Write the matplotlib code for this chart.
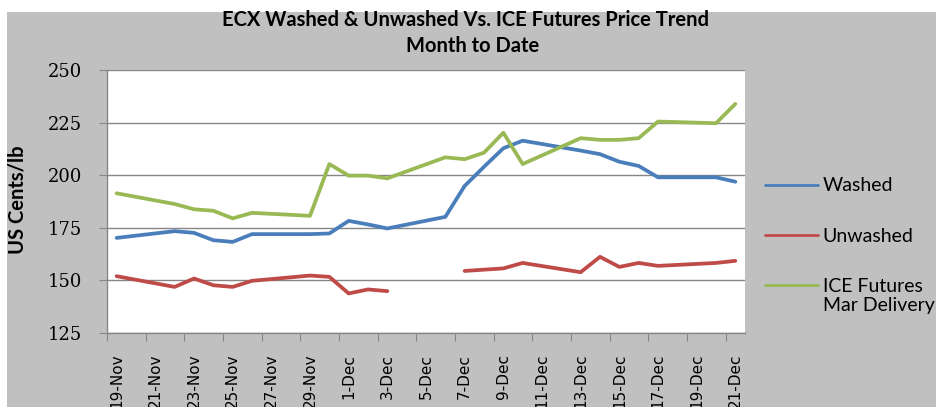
import matplotlib
matplotlib.use('Agg')
import matplotlib.pyplot as plt
import matplotlib.dates as mdates
from matplotlib.patches import Rectangle
import numpy as np
import pandas as pd

dates = ["2010-11-19", "2010-11-22", "2010-11-23", "2010-11-24", "2010-11-25", "2010-11-26",
         "2010-11-29", "2010-11-30", "2010-12-01", "2010-12-02", "2010-12-03", "2010-12-06",
         "2010-12-07", "2010-12-08", "2010-12-09", "2010-12-10", "2010-12-13", "2010-12-14",
         "2010-12-15", "2010-12-16", "2010-12-17", "2010-12-20", "2010-12-21"]
washed = [170.2, 173.4, 172.6, 169.1, 168.3, 172.0, 172.0, 172.3, 178.3, 176.6, 174.7, 180.2,
          194.9, 204.0, 212.8, 216.4, 211.7, 210.0, 206.4, 204.4, 199.0, 199.0, 196.9]
unwashed = [152.0, 146.9, 150.9, 147.7, 146.9, 149.8, 152.3, 151.7, 143.8, 145.7, 144.9, np.nan,
            154.5, 155.1, 155.7, 158.3, 153.9, 161.2, 156.4, 158.3, 156.9, 158.3, 159.3]
ice_futures = [191.4, 186.3, 183.8, 183.1, 179.5, 182.1, 180.7, 205.3, 199.8, 199.8, 198.5, 208.5,
               207.6, 210.7, 220.2, 205.3, 217.6, 216.8, 216.8, 217.6, 225.5, 224.7, 233.9]
tick_labels = ["19-Nov", "21-Nov", "23-Nov", "25-Nov", "27-Nov", "29-Nov", "1-Dec", "3-Dec",
               "5-Dec", "7-Dec", "9-Dec", "11-Dec", "13-Dec", "15-Dec", "17-Dec", "19-Dec", "21-Dec"]
series_names = ["Washed", "Unwashed", "ICE Futures"]
ice_second_line = "Mar Delivery"
colors = ["#4A7EBB", "#BE4B48", "#98B954"]
yticks = [125, 150, 175, 200, 225, 250]

W, H = 936, 407
fig = plt.figure(figsize=(W / 100, H / 100), dpi=100)
fig.patch.set_facecolor('white')
fig.patches.append(Rectangle((7 / W, 0), 1 - 7 / W, (H - 12) / H, transform=fig.transFigure,
                             facecolor='#C0C0C0', edgecolor='none', zorder=-10))

ax = fig.add_axes([107 / W, (H - 333) / H, 638 / W, 263 / H])
ax.set_facecolor('white')

x = mdates.date2num(pd.to_datetime(dates))
for vals, name, c in zip([washed, unwashed, ice_futures], series_names, colors):
    ax.plot(x, vals, color=c, lw=2.7, solid_capstyle='round', solid_joinstyle='round', label=name, zorder=3)

ax.set_xlim(x[0] - 0.5, x[-1] + 0.5)
ax.set_ylim(yticks[0], yticks[-1])
ax.set_yticks(yticks)
ax.set_xticks(np.arange(x[0] - 0.5, x[-1], 2))
ax.set_xticks(x[0] + 2 * np.arange(len(tick_labels)), minor=True)
ax.set_xticklabels(tick_labels, minor=True, rotation=90, fontsize=11, family='DejaVu Sans')
ax.tick_params(axis='x', which='major', length=6, color='#868686', labelbottom=False)
ax.tick_params(axis='x', which='minor', length=0, pad=15)
ax.tick_params(axis='y', length=6, color='#868686', pad=12, labelsize=13)
for lab in ax.get_yticklabels():
    lab.set_family('DejaVu Serif')
ax.grid(axis='y', color='#868686', lw=1)
ax.set_axisbelow(True)
for s in ['top', 'right']:
    ax.spines[s].set_visible(False)
for s in ['left', 'bottom']:
    ax.spines[s].set_color('#868686')
    ax.spines[s].set_linewidth(1)

fig.text(466 / W, 1 - 20 / H, "ECX Washed & Unwashed Vs. ICE Futures Price Trend",
         ha='center', va='center', fontsize=14.5, fontweight='bold', family='Lato')
fig.text(473 / W, 1 - 46 / H, "Month to Date",
         ha='center', va='center', fontsize=14.5, fontweight='bold', family='Lato')
fig.text(18 / W, 1 - 200 / H, "US Cents/lb", rotation=90, ha='center', va='center',
         fontsize=14.5, fontweight='bold', family='Lato')

leg = fig.legend(loc='upper left', bbox_to_anchor=(747 / W, 1 - 160 / H), frameon=False,
                 prop={'family': 'Lato', 'size': 14}, handlelength=2.73, handletextpad=0.26,
                 labelspacing=1.71)
for line in leg.get_lines():
    line.set_linewidth(2)
fig.text(823 / W, 1 - 305 / H, ice_second_line, ha='left', va='center', fontsize=14, family='Lato')

fig.savefig('out.png', dpi=100, facecolor=fig.get_facecolor())
